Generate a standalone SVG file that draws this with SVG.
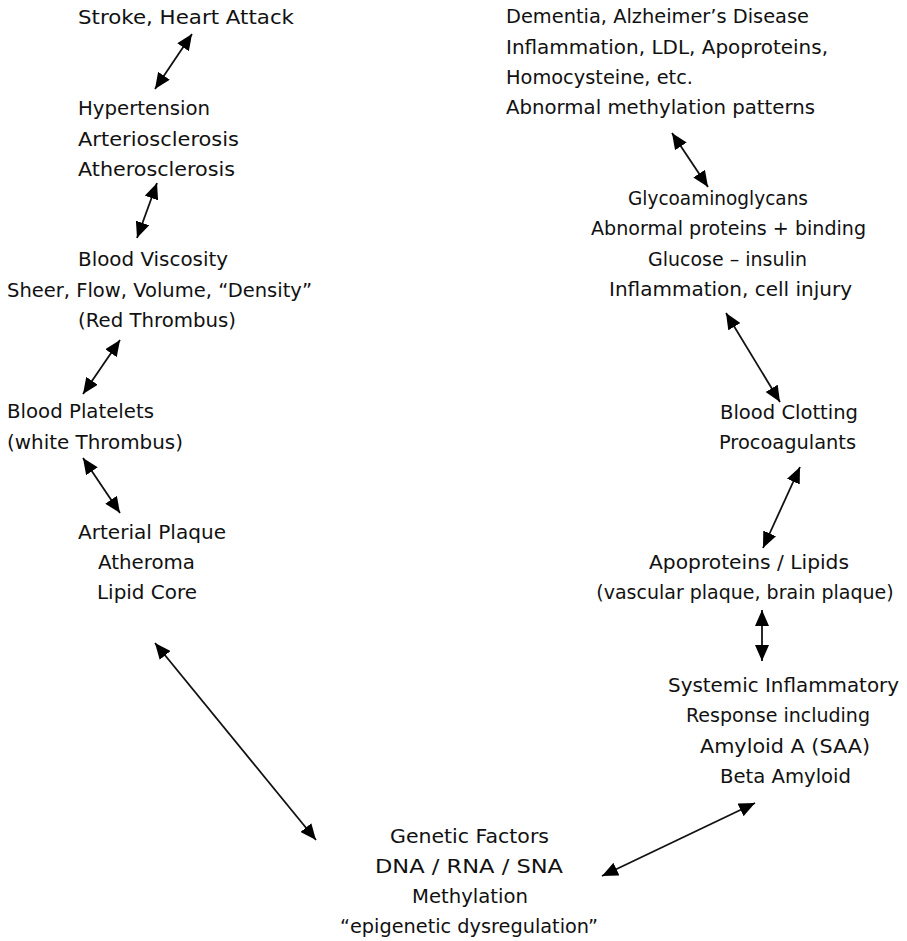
<svg xmlns="http://www.w3.org/2000/svg" width="907" height="941" viewBox="0 0 907 941">
<defs>
<marker id="ah" viewBox="0 0 16 14" refX="16" refY="7" markerWidth="16" markerHeight="14" markerUnits="userSpaceOnUse" orient="auto-start-reverse">
<path d="M0,0 L16,7 L0,14 z" fill="#000"/>
</marker>
<style>
text{font-family:"DejaVu Sans","Noto Sans",sans-serif;font-size:20px;fill:#111}
.c{text-anchor:middle}
.conn line{stroke:#111;stroke-width:1.8;marker-start:url(#ah);marker-end:url(#ah)}
</style>
</defs>
<rect width="907" height="941" fill="#fff"/>
<g id="stroke"><text x="78" y="24" textLength="216" lengthAdjust="spacingAndGlyphs">Stroke, Heart Attack</text></g>
<g id="hypertension">
<text x="78" y="115" textLength="132" lengthAdjust="spacingAndGlyphs">Hypertension</text>
<text x="78" y="145.5" textLength="161" lengthAdjust="spacingAndGlyphs">Arteriosclerosis</text>
<text x="78" y="175.5" textLength="157" lengthAdjust="spacingAndGlyphs">Atherosclerosis</text>
</g>
<g id="viscosity">
<text class="c" x="153" y="266" textLength="150" lengthAdjust="spacingAndGlyphs">Blood Viscosity</text>
<text class="c" x="159.5" y="297" textLength="305" lengthAdjust="spacingAndGlyphs">Sheer, Flow, Volume, “Density”</text>
<text class="c" x="157" y="327" textLength="158" lengthAdjust="spacingAndGlyphs">(Red Thrombus)</text>
</g>
<g id="platelets">
<text x="7" y="418" textLength="147" lengthAdjust="spacingAndGlyphs">Blood Platelets</text>
<text x="7" y="449" textLength="176" lengthAdjust="spacingAndGlyphs">(white Thrombus)</text>
</g>
<g id="plaque">
<text class="c" x="152" y="539" textLength="148" lengthAdjust="spacingAndGlyphs">Arterial Plaque</text>
<text class="c" x="146.5" y="569" textLength="97" lengthAdjust="spacingAndGlyphs">Atheroma</text>
<text class="c" x="147" y="599" textLength="100" lengthAdjust="spacingAndGlyphs">Lipid Core</text>
</g>
<g id="dementia">
<text x="506" y="23" textLength="303" lengthAdjust="spacingAndGlyphs">Dementia, Alzheimer’s Disease</text>
<text x="506" y="54" textLength="322" lengthAdjust="spacingAndGlyphs">Inflammation, LDL, Apoproteins,</text>
<text x="506" y="84" textLength="187" lengthAdjust="spacingAndGlyphs">Homocysteine, etc.</text>
<text x="506" y="114" textLength="309" lengthAdjust="spacingAndGlyphs">Abnormal methylation patterns</text>
</g>
<g id="glyco">
<text class="c" x="718" y="205" textLength="180" lengthAdjust="spacingAndGlyphs">Glycoaminoglycans</text>
<text class="c" x="728.5" y="235" textLength="275" lengthAdjust="spacingAndGlyphs">Abnormal proteins + binding</text>
<text class="c" x="727.5" y="265.5" textLength="159" lengthAdjust="spacingAndGlyphs">Glucose – insulin</text>
<text class="c" x="730.5" y="295.5" textLength="243" lengthAdjust="spacingAndGlyphs">Inflammation, cell injury</text>
</g>
<g id="clotting">
<text class="c" x="789" y="419" textLength="138" lengthAdjust="spacingAndGlyphs">Blood Clotting</text>
<text class="c" x="787.5" y="449" textLength="137" lengthAdjust="spacingAndGlyphs">Procoagulants</text>
</g>
<g id="lipids">
<text class="c" x="749" y="569" textLength="200" lengthAdjust="spacingAndGlyphs">Apoproteins / Lipids</text>
<text class="c" x="745" y="599" style="font-size:19px">(vascular plaque, brain plaque)</text>
</g>
<g id="systemic">
<text class="c" x="783.5" y="692" textLength="231" lengthAdjust="spacingAndGlyphs">Systemic Inflammatory</text>
<text class="c" x="778" y="722" textLength="184" lengthAdjust="spacingAndGlyphs">Response including</text>
<text class="c" x="785" y="753" textLength="170" lengthAdjust="spacingAndGlyphs">Amyloid A (SAA)</text>
<text class="c" x="785.5" y="783" textLength="131" lengthAdjust="spacingAndGlyphs">Beta Amyloid</text>
</g>
<g id="genetic">
<text class="c" x="469.5" y="843" textLength="159" lengthAdjust="spacingAndGlyphs">Genetic Factors</text>
<text class="c" x="469" y="873" textLength="188" lengthAdjust="spacingAndGlyphs">DNA / RNA / SNA</text>
<text class="c" x="470" y="903" textLength="116" lengthAdjust="spacingAndGlyphs">Methylation</text>
<text class="c" x="469" y="933" textLength="258" lengthAdjust="spacingAndGlyphs">“epigenetic dysregulation”</text>
</g>
<g id="connectors" class="conn">
<line x1="192" y1="34" x2="155" y2="89"/>
<line x1="157" y1="183" x2="137" y2="238"/>
<line x1="120" y1="340" x2="83" y2="394"/>
<line x1="83" y1="458" x2="120" y2="513"/>
<line x1="155" y1="643" x2="316" y2="840"/>
<line x1="672" y1="133" x2="708" y2="187"/>
<line x1="726" y1="313" x2="780" y2="402"/>
<line x1="800" y1="467" x2="763" y2="548"/>
<line x1="762" y1="610" x2="762" y2="661"/>
<line x1="755" y1="803" x2="602" y2="876"/>
</g>
</svg>
